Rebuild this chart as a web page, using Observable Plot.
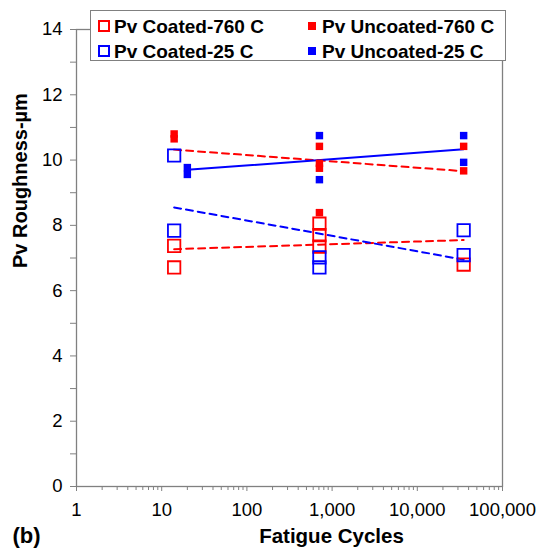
<!DOCTYPE html>
<html><head><meta charset="utf-8">
<script src="https://cdn.jsdelivr.net/npm/d3@7"></script>
<script src="https://cdn.jsdelivr.net/npm/@observablehq/plot@0.6"></script>
<style>
body{margin:0;background:#fff;font-family:"Liberation Sans",Arial,sans-serif;}
#wrap{position:relative;width:536px;height:557px;}
#legend{position:absolute;left:90px;top:10px;width:414px;height:49px;border:1px solid #808080;background:#fff;font-weight:bold;font-size:19px;color:#000;}
.item{position:absolute;height:20px;display:flex;align-items:center;white-space:nowrap;line-height:1;}
.sw{display:inline-block;box-sizing:border-box;}
</style></head><body><div id="wrap"><div id="legend"></div></div>
<script>
// Series: open squares = coated, filled squares = uncoated
const coated760X = [14, 14, 710, 710, 710, 35000];
const coated760Y = [7.37, 6.71, 8.05, 7.7, 7.35, 6.8];
const coated25X = [14, 14, 710, 710, 35000, 35000];
const coated25Y = [10.14, 7.84, 7.02, 6.71, 7.85, 7.09];
const uncoated760X = [14, 14, 710, 710, 710, 710, 35000, 35000];
const uncoated760Y = [10.8, 10.65, 10.42, 9.9, 9.75, 8.39, 10.42, 9.67];
const uncoated25X = [20, 20, 710, 710, 35000, 35000];
const uncoated25Y = [9.77, 9.56, 10.75, 9.4, 10.75, 9.93];

// Trend lines (endpoints)
const trendCoated760X = [14, 35000], trendCoated760Y = [7.27, 7.55];
const trendCoated25X = [14, 35000], trendCoated25Y = [8.55, 6.95];
const trendUncoated760X = [14, 35000], trendUncoated760Y = [10.32, 9.66];
const trendUncoated25X = [20, 35000], trendUncoated25Y = [9.7, 10.33];

const xMajorTicks = [1, 10, 100, 1000, 10000, 100000];
const yMajorTicks = [0, 2, 4, 6, 8, 10, 12, 14];
const yMinorTicks = [1, 3, 5, 7, 9, 11, 13];

const seriesNames = ["Pv Coated-760 C", "Pv Uncoated-760 C", "Pv Coated-25 C", "Pv Uncoated-25 C"];
const seriesColors = ["#ff0000", "#ff0000", "#0000ff", "#0000ff"];
const seriesFilled = [false, true, false, true];

const zip = (xs, ys) => xs.map((x, i) => ({x, y: ys[i]}));
const xMinorTicks = [];
for (let e = 0; e < 5; e++) for (let k = 2; k <= 9; k++) xMinorTicks.push(k * 10 ** e);

const RED = "#ff0000", BLUE = "#0000ff", GRAY = "#808080";
const dash = "7,5";

const chart = Plot.plot({
  width: 536, height: 557,
  marginLeft: 76, marginRight: 34, marginTop: 29, marginBottom: 71,
  style: {fontFamily: "'Liberation Sans', Arial, sans-serif", fontSize: "18px", background: "#fff"},
  x: {type: "log", domain: [1, 100000]},
  y: {domain: [0, 14]},
  marks: [
    Plot.frame({stroke: GRAY, strokeWidth: 1.3}),
    Plot.axisX(xMinorTicks, {tickSize: 4, tickFormat: () => "", stroke: GRAY, label: null}),
    Plot.axisX(xMajorTicks, {tickSize: 5, tickPadding: 11, tickFormat: d3.format(","), stroke: GRAY, fill: "#000", fontSize: 18.5, label: null}),
    Plot.axisY(yMinorTicks, {tickSize: 6, tickFormat: () => "", stroke: GRAY, label: null}),
    Plot.axisY(yMajorTicks, {tickSize: 6, tickPadding: 8, stroke: GRAY, fill: "#000", fontSize: 18.5, label: null}),
    Plot.line(zip(trendCoated760X, trendCoated760Y), {x: "x", y: "y", stroke: RED, strokeWidth: 2, strokeDasharray: dash}),
    Plot.line(zip(trendUncoated760X, trendUncoated760Y), {x: "x", y: "y", stroke: RED, strokeWidth: 2, strokeDasharray: dash}),
    Plot.line(zip(trendCoated25X, trendCoated25Y), {x: "x", y: "y", stroke: BLUE, strokeWidth: 2, strokeDasharray: dash}),
    Plot.line(zip(trendUncoated25X, trendUncoated25Y), {x: "x", y: "y", stroke: BLUE, strokeWidth: 2}),
    Plot.dot(zip(coated760X, coated760Y), {x: "x", y: "y", symbol: "square", r: 7, stroke: RED, strokeWidth: 1.8, fill: "none"}),
    Plot.dot(zip(coated25X, coated25Y), {x: "x", y: "y", symbol: "square", r: 7, stroke: BLUE, strokeWidth: 1.8, fill: "none"}),
    Plot.dot(zip(uncoated760X, uncoated760Y), {x: "x", y: "y", symbol: "square", r: 4.2, fill: RED, stroke: "none"}),
    Plot.dot(zip(uncoated25X, uncoated25Y), {x: "x", y: "y", symbol: "square", r: 4.2, fill: BLUE, stroke: "none"}),
    Plot.text(["Pv Roughness-µm"], {frameAnchor: "left", rotate: -90, dx: -56, dy: 10, fontWeight: "bold", fontSize: 20, fill: "#000"}),
    Plot.text(["Fatigue Cycles"], {frameAnchor: "bottom", dx: 42, dy: 56, fontWeight: "bold", fontSize: 20.5, fill: "#000"}),
    Plot.text(["(b)"], {frameAnchor: "bottom-left", dx: -64, dy: 56, textAnchor: "start", fontWeight: "bold", fontSize: 22, fill: "#000"})
  ]
});
document.getElementById("wrap").prepend(chart);

// Legend
const legend = document.getElementById("legend");
const pos = [[7, 5], [217, 5], [7, 30], [217, 30]];
seriesNames.forEach((name, i) => {
  const it = document.createElement("div");
  it.className = "item";
  it.style.left = pos[i][0] + "px";
  it.style.top = pos[i][1] + "px";
  const sw = document.createElement("span");
  sw.className = "sw";
  if (seriesFilled[i]) {
    sw.style.width = "8px"; sw.style.height = "8px"; sw.style.background = seriesColors[i];
    sw.style.marginRight = "6px";
  } else {
    sw.style.width = "12px"; sw.style.height = "12px"; sw.style.border = "2px solid " + seriesColors[i];
    sw.style.marginRight = "4px";
  }
  it.appendChild(sw);
  const t = document.createElement("span");
  t.textContent = name;
  it.appendChild(t);
  legend.appendChild(it);
});
</script>
</body></html>
